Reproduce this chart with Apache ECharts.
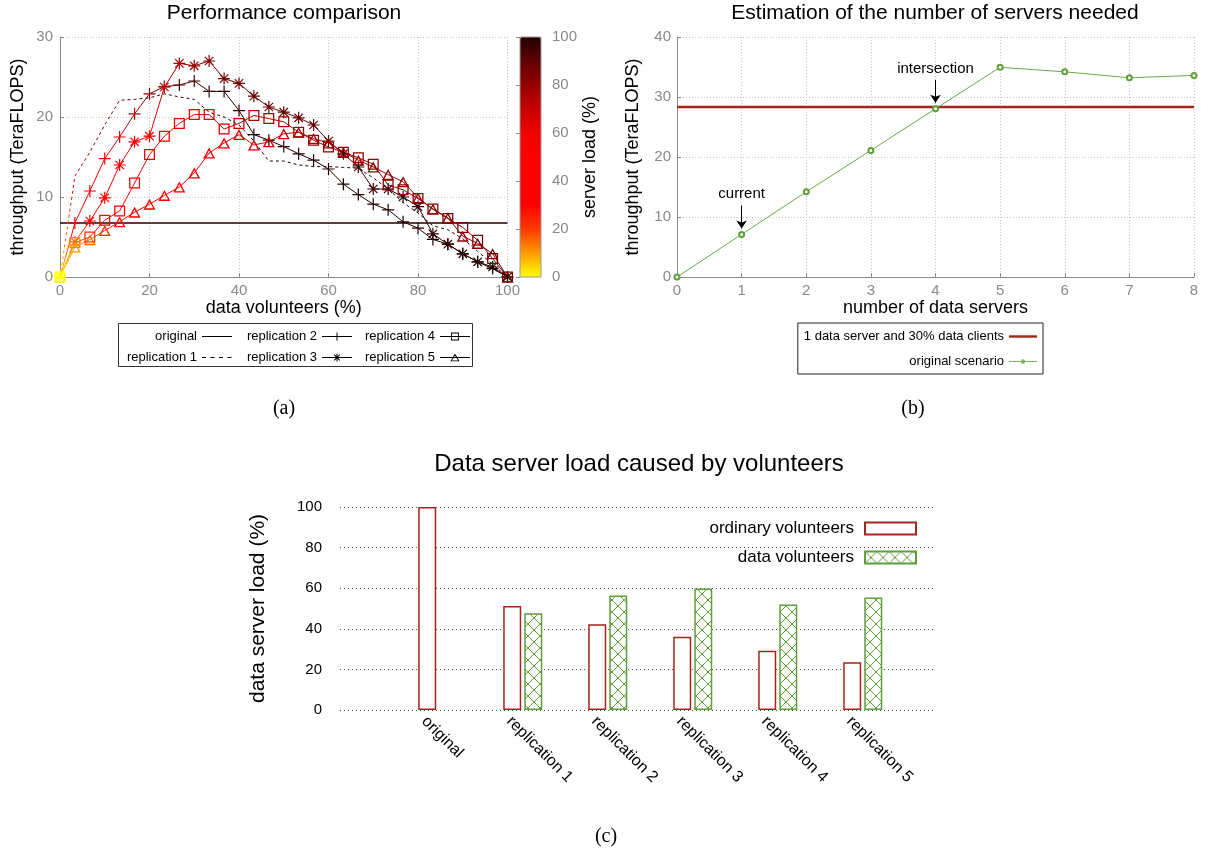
<!DOCTYPE html>
<html><head><meta charset="utf-8">
<script src="https://cdn.jsdelivr.net/npm/echarts@6/dist/echarts.min.js"></script>
<style>html,body{margin:0;padding:0;background:#fff}#c{width:1216px;height:854px}</style>
</head><body><div id="c"></div>
<script>
// ---------------- DATA ----------------
// (a) Performance comparison
const dataVolunteersPct = [0,3.33,6.67,10,13.33,16.67,20,23.33,26.67,30,33.33,36.67,40,43.33,46.67,50,53.33,56.67,60,63.33,66.67,70,73.33,76.67,80,83.33,86.67,90,93.33,96.67,100];
const originalPct = [0, 100];
const originalThroughput = [6.75, 6.75];
const originalLoad = [100, 100];
const rep1Throughput = [0,12.6,15.6,19.0,22.1,22.2,22.4,22.9,22.5,22.2,20.6,20.0,19.0,17.0,14.5,14.5,14.0,13.8,13.8,13.7,13.6,12.4,11.0,9.3,8.0,6.4,5.9,4.8,3.2,1.6,0];
const rep2Throughput = [0,6.75,10.75,14.8,17.5,20.4,22.9,23.8,24.0,24.5,23.2,23.2,20.8,17.8,17.1,16.3,15.4,14.6,13.5,11.6,10.3,9.1,8.4,6.9,6.1,4.7,4.1,2.9,1.9,1.05,0];
const rep3Throughput = [0,4.4,7.0,9.9,14.0,16.9,17.6,23.75,26.7,26.4,27.0,24.8,24.2,22.6,21.25,20.6,19.9,19.0,17.0,15.4,13.75,11.0,11.0,10.0,8.8,5.4,4.1,2.9,1.9,1.25,0];
const rep4Throughput = [0,4.3,5.0,7.1,8.25,11.75,15.3,17.6,19.2,20.3,20.3,18.5,19.2,20.2,19.8,19.4,18.1,17.1,16.25,15.6,14.9,14.1,11.5,10.9,9.8,8.5,7.3,6.2,4.6,2.3,0];
const rep5Throughput = [0,3.75,4.67,5.8,6.9,8.1,9.1,10.2,11.25,13.0,15.5,16.75,17.8,16.5,16.9,17.9,18.1,17.3,16.75,15.6,14.6,13.75,12.8,11.9,9.9,8.5,7.4,5.1,4.2,2.9,0];
// server load (%) at each point (colour dimension)
const rep1Load = [0,50,75,85,90,93,95,96,97,98,99,100,100,100,100,100,100,100,100,100,100,100,100,100,100,100,100,100,100,100,100];
const rep2Load = [0,40,50,55,65,75,82,88,92,95,97,98,100,100,100,100,100,100,100,100,100,100,100,100,100,100,100,100,100,100,100];
const rep3Load = [0,15,30,45,50,55,60,70,78,80,84,86,87,88,88,89,89,90,91,92,94,96,97,98,98,99,99,100,100,100,100];
const rep4Load = [0,12,22,35,45,50,55,58,60,62,64,68,72,75,77,78,79,80,80,80,81,81,82,82,83,83,84,84,85,86,87];
const rep5Load = [0,10,15,22,28,35,45,50,55,58,60,60,62,63,66,70,74,77,78,79,80,80,81,81,82,82,83,83,84,85,86];
const repNames = ['replication 1','replication 2','replication 3','replication 4','replication 5'];

// (b) Estimation of the number of servers needed
const dataServers = [0,1,2,3,4,5,6,7,8];
const originalScenario = [0,7.1,14.2,21.1,28.05,34.95,34.2,33.2,33.6];
const oneServer30Pct = 28.35;
const annotLabels = ['current','intersection'];
const annotServers = [1,4];

// (c) Data server load caused by volunteers
const loadCategories = ['original','replication 1','replication 2','replication 3','replication 4','replication 5'];
const ordinaryVolunteersLoad = [100,51.2,42.3,36.1,29.2,23.5];
const dataVolunteersLoad = [null,47.6,56.4,59.8,52.0,55.4];

// ---------------- STYLE ----------------
const FONT = 'Liberation Sans, Arial, sans-serif';
const SERIF = 'Liberation Serif, DejaVu Serif, serif';
const GRAY = '#8a8a8a';
const GRID_DOT = '#c4c4c4';
const loadPalette = ['#ffff00','#ff9a00','#ff3a00','#ff0000','#ff0000','#ff0000','#f00000','#c80000','#960000','#600000','#220000'];
const PLUS = 'path://M0,9H20V11H0Z M9,0H11V20H9Z';
const STAR = 'path://M0,9H20V11H0Z M9,0H11V20H9Z M3.7,2.3L17.7,16.3L16.3,17.7L2.3,3.7Z M16.3,2.3L17.7,3.7L3.7,17.7L2.3,16.3Z';
const SQUARE_RING = 'path://M0,0H20V20H0Z M2.3,2.3V17.7H17.7V2.3Z';
const TRI_RING = 'path://M10,0L20,18H0Z M10,4.4L3.8,15.8H16.2Z';
const ICON_LINE = 'path://M0,0M30,10M0,4.5H30V5.5H0Z';
const ICON_DASH = 'path://M0,0M30,10M0,4.5H4V5.5H0Z M8.5,4.5H12.5V5.5H8.5Z M17,4.5H21V5.5H17Z M25.5,4.5H29.5V5.5H25.5Z';
const ICON_PLUS = 'path://M0,0M30,10M0,4.5H30V5.5H0Z M14.5,1H15.5V9H14.5Z';
const ICON_STAR = 'path://M0,0M30,10M0,4.5H30V5.5H0Z M14.5,1H15.5V9H14.5Z M12.5,1.8L18.2,7.5L17.5,8.2L11.8,2.5Z M17.5,1.8L18.2,2.5L12.5,8.2L11.8,7.5Z';
const ICON_SQUARE = 'path://M0,0M30,10M0,4.5H30V5.5H0Z M11,1H19V9H11Z M11.9,1.9V8.1H18.1V1.9Z';
const ICON_TRI = 'path://M0,0M30,10M0,4.5H30V5.5H0Z M15,1L19.6,8.8H10.4Z M15,2.9L11.9,7.9H18.1Z';
const ICON_THICK = 'path://M0,0M28,10M0,3.8H28V6.2H0Z';
const ICON_DOTLINE = 'path://M0,0M28,10M0,4.5H28V5.5H0Z M16.2,5A2.2,2.2 0 1 1 11.8,5A2.2,2.2 0 1 1 16.2,5Z';
const repSymbol = ['none', PLUS, STAR, SQUARE_RING, TRI_RING];
const repSymbolSize = [0, 12, 12, 11, [12, 11]];
const RED = '#a3261b';
const GREEN = '#5f9f3c';

function hexToRgb(h){ return [parseInt(h.slice(1,3),16), parseInt(h.slice(3,5),16), parseInt(h.slice(5,7),16)]; }
function loadColor(v){
  const n = loadPalette.length - 1;
  const t = Math.max(0, Math.min(1, v/100)) * n;
  const i = Math.min(Math.floor(t), n-1);
  const f = t - i;
  const a = hexToRgb(loadPalette[i]), b = hexToRgb(loadPalette[i+1]);
  return 'rgb(' + a.map((c,k)=>Math.round(c + (b[k]-c)*f)).join(',') + ')';
}
function loadGradient(xs, loads){
  const x0 = xs[0], x1 = xs[xs.length-1];
  return new echarts.graphic.LinearGradient(0,0,1,0, xs.map((x,i)=>({offset:(x-x0)/(x1-x0), color: loadColor(loads[i])})));
}
function hatchPattern(){
  const c = document.createElement('canvas');
  c.width = 12; c.height = 12;
  const g = c.getContext('2d');
  g.fillStyle = '#fff'; g.fillRect(0,0,12,12);
  g.strokeStyle = GREEN; g.lineWidth = 1;
  g.beginPath(); g.moveTo(0,0); g.lineTo(12,12); g.moveTo(12,0); g.lineTo(0,12); g.stroke();
  return c;
}

const repThroughput = [rep1Throughput, rep2Throughput, rep3Throughput, rep4Throughput, rep5Throughput];
const repLoad = [rep1Load, rep2Load, rep3Load, rep4Load, rep5Load];
const repIcon = [ICON_DASH, ICON_PLUS, ICON_STAR, ICON_SQUARE, ICON_TRI];

const chart = echarts.init(document.getElementById('c'));

const seriesA = [{
  name: 'original', type: 'line', xAxisIndex: 0, yAxisIndex: 0, symbol: 'none',
  data: originalPct.map((x,i)=>[x, originalThroughput[i], originalLoad[i]]),
  lineStyle: {width: 1.3, color: loadGradient(originalPct, originalLoad)}
}].concat(repNames.map((name,k)=>({
  name: name, type: 'line', xAxisIndex: 0, yAxisIndex: 0,
  symbol: repSymbol[k], symbolSize: repSymbolSize[k], showSymbol: repSymbol[k] !== 'none',
  data: dataVolunteersPct.map((x,i)=>[x, repThroughput[k][i], repLoad[k][i]]),
  lineStyle: {width: 1, type: k === 0 ? [3,3] : 'solid', color: loadGradient(dataVolunteersPct, repLoad[k])},
  itemStyle: {borderWidth: 0}
})));

const legendBlack = (name, icon) => ({name: name, icon: icon, itemStyle: {color: '#000', borderColor: '#000', borderWidth: 0}});

const axisNameStyle = (size) => ({fontSize: size, color: '#000', fontFamily: FONT});

const option = {
  animation: false,
  backgroundColor: '#fff',
  textStyle: {fontFamily: FONT},
  title: [
    {text: 'Performance comparison', left: 284, top: 3, textAlign: 'center', padding: 0, textStyle: {fontSize: 21, fontWeight: 'normal', color: '#000', fontFamily: FONT}},
    {text: 'Estimation of the number of servers needed', left: 935, top: 3, textAlign: 'center', padding: 0, textStyle: {fontSize: 21, fontWeight: 'normal', color: '#000', fontFamily: FONT}},
    {text: 'Data server load caused by volunteers', left: 639, top: 452, textAlign: 'center', padding: 0, textStyle: {fontSize: 24, fontWeight: 'normal', color: '#000', fontFamily: FONT}},
    {text: '(a)', left: 284, top: 399, textAlign: 'center', padding: 0, textStyle: {fontSize: 20, fontWeight: 'normal', color: '#000', fontFamily: SERIF}},
    {text: '(b)', left: 913, top: 399, textAlign: 'center', padding: 0, textStyle: {fontSize: 20, fontWeight: 'normal', color: '#000', fontFamily: SERIF}},
    {text: '(c)', left: 606, top: 827, textAlign: 'center', padding: 0, textStyle: {fontSize: 20, fontWeight: 'normal', color: '#000', fontFamily: SERIF}}
  ],
  grid: [
    {left: 60, top: 37, width: 447.5, height: 240},
    {left: 677, top: 37, width: 517, height: 240},
    {left: 520, top: 37, width: 21, height: 240, show: true, borderColor: '#999', borderWidth: 1, backgroundColor: 'transparent', z: 5},
    {left: 340, top: 507, width: 595, height: 203}
  ],
  xAxis: [
    {gridIndex: 0, type: 'value', min: 0, max: 100, interval: 20,
     name: 'data volunteers (%)', nameLocation: 'middle', nameGap: 16, nameTextStyle: axisNameStyle(18),
     axisLine: {lineStyle: {color: GRAY}}, axisTick: {inside: true, length: 4, lineStyle: {color: GRAY}},
     axisLabel: {color: GRAY, fontSize: 15, margin: 6},
     splitLine: {show: true, lineStyle: {color: GRID_DOT, type: [1,2]}}},
    {gridIndex: 1, type: 'value', min: 0, max: 8, interval: 1,
     name: 'number of data servers', nameLocation: 'middle', nameGap: 20, nameTextStyle: axisNameStyle(18),
     axisLine: {lineStyle: {color: GRAY}}, axisTick: {inside: true, length: 4, lineStyle: {color: GRAY}},
     axisLabel: {color: GRAY, fontSize: 15, margin: 6},
     splitLine: {show: true, lineStyle: {color: GRID_DOT, type: [1,2]}}},
    {gridIndex: 2, type: 'value', min: 0, max: 1, show: false},
    {gridIndex: 3, type: 'value', min: -1.15, max: 5.85,
     axisLine: {show: false}, axisTick: {show: false}, splitLine: {show: false},
     axisLabel: {show: true, rotate: -45, fontSize: 16, color: '#000', margin: 9,
       customValues: loadCategories.map((c,i)=>i - 0.16),
       formatter: (v)=> loadCategories[Math.round(v)] || ''}}
  ],
  yAxis: [
    {gridIndex: 0, type: 'value', min: 0, max: 30, interval: 10,
     name: 'throughput (TeraFLOPS)', nameLocation: 'middle', nameGap: 33, nameTextStyle: axisNameStyle(18),
     axisLine: {show: true, lineStyle: {color: GRAY}}, axisTick: {show: true, inside: true, length: 4, lineStyle: {color: GRAY}},
     axisLabel: {color: GRAY, fontSize: 15, margin: 7},
     splitLine: {show: true, lineStyle: {color: GRID_DOT, type: [1,2]}}},
    {gridIndex: 1, type: 'value', min: 0, max: 40, interval: 10,
     name: 'throughput (TeraFLOPS)', nameLocation: 'middle', nameGap: 35, nameTextStyle: axisNameStyle(18),
     axisLine: {show: true, lineStyle: {color: GRAY}}, axisTick: {show: true, inside: true, length: 4, lineStyle: {color: GRAY}},
     axisLabel: {color: GRAY, fontSize: 15, margin: 6},
     splitLine: {show: true, lineStyle: {color: GRID_DOT, type: [1,2]}}},
    {gridIndex: 2, type: 'value', position: 'right', min: 0, max: 100, interval: 20,
     name: 'server load (%)', nameLocation: 'middle', nameGap: 40, nameTextStyle: axisNameStyle(18),
     axisLine: {show: false}, axisTick: {show: true, inside: true, length: 4, lineStyle: {color: GRAY}},
     axisLabel: {color: GRAY, fontSize: 15, margin: 11}, splitLine: {show: false}},
    {gridIndex: 3, type: 'value', min: 0, max: 100, interval: 20,
     name: 'data server load (%)', nameLocation: 'middle', nameGap: 71, nameTextStyle: axisNameStyle(21),
     axisLine: {show: false}, axisTick: {show: false},
     axisLabel: {color: '#000', fontSize: 15, margin: 18},
     splitLine: {show: true, lineStyle: {color: '#555', type: [1,3]}}}
  ],
  visualMap: [{
    type: 'continuous', seriesIndex: [0,1,2,3,4,5], dimension: 2, min: 0, max: 100,
    inRange: {color: loadPalette}, orient: 'vertical', left: 520, top: 37,
    itemWidth: 21, itemHeight: 240, padding: 0, calculable: false, hoverLink: false, z: 2
  }],
  legend: [
    {orient: 'vertical', align: 'right', right: 984, top: 330, padding: 0, itemWidth: 30, itemHeight: 10, itemGap: 8,
     selectedMode: false, textStyle: {fontSize: 13, color: '#000'},
     data: [legendBlack('original', ICON_LINE), legendBlack(repNames[0], repIcon[0])]},
    {orient: 'vertical', align: 'right', right: 864, top: 330, padding: 0, itemWidth: 30, itemHeight: 10, itemGap: 8,
     selectedMode: false, textStyle: {fontSize: 13, color: '#000'},
     data: [legendBlack(repNames[1], repIcon[1]), legendBlack(repNames[2], repIcon[2])]},
    {orient: 'vertical', align: 'right', right: 746, top: 330, padding: 0, itemWidth: 30, itemHeight: 10, itemGap: 8,
     selectedMode: false, textStyle: {fontSize: 13, color: '#000'},
     data: [legendBlack(repNames[3], repIcon[3]), legendBlack(repNames[4], repIcon[4])]},
    {orient: 'vertical', align: 'right', right: 173, top: 323, padding: [7,6,6,6], borderColor: '#222', borderWidth: 1,
     itemWidth: 28, itemHeight: 10, itemGap: 12, selectedMode: false, textStyle: {fontSize: 13, color: '#000'},
     data: [{name: '1 data server and 30% data clients', icon: ICON_THICK, itemStyle: {color: RED, borderWidth: 0}},
            {name: 'original scenario', icon: ICON_DOTLINE, itemStyle: {color: '#7ab85a', borderWidth: 0}}]},
    {orient: 'vertical', align: 'right', right: 299, top: 520, padding: 0, itemWidth: 51, itemHeight: 12, itemGap: 12,
     selectedMode: false, icon: 'rect', textStyle: {fontSize: 17, color: '#000', padding: [0,6,0,0]},
     data: ['ordinary volunteers', 'data volunteers']}
  ],
  graphic: [
    {type: 'rect', shape: {x: 118.5, y: 323.5, width: 354, height: 43}, style: {fill: 'none', stroke: '#333', lineWidth: 1}, silent: true}
  ],
  series: seriesA.concat([
    {name: '1 data server and 30% data clients', type: 'line', xAxisIndex: 1, yAxisIndex: 1, symbol: 'none',
     data: [[dataServers[0], oneServer30Pct], [dataServers[dataServers.length-1], oneServer30Pct]],
     lineStyle: {color: RED, width: 2.5}, itemStyle: {color: RED}, z: 3},
    {name: 'original scenario', type: 'line', xAxisIndex: 1, yAxisIndex: 1, symbol: 'emptyCircle', symbolSize: 5,
     data: dataServers.map((s,i)=>[s, originalScenario[i]]),
     lineStyle: {color: '#6aaa48', width: 1}, itemStyle: {color: GREEN, borderWidth: 1}, z: 4,
     markLine: {
       silent: true, symbol: ['none','arrow'], symbolSize: 8, precision: 4, animation: false,
       lineStyle: {color: '#000', width: 1, type: 'solid'},
       label: {show: true, position: 'start', formatter: '{b}', color: '#000', fontSize: 15, distance: 4, fontFamily: FONT},
       emphasis: {disabled: true},
       data: annotLabels.map((lab,i)=>{
         const y = originalScenario[dataServers.indexOf(annotServers[i])];
         return [{name: lab, coord: [annotServers[i], y + 4.8]}, {coord: [annotServers[i], y + 1.0]}];
       })
     }},
    {name: 'ordinary volunteers', type: 'bar', xAxisIndex: 3, yAxisIndex: 3, barWidth: 18, barGap: '17%',
     data: ordinaryVolunteersLoad.map((v,i)=>[i, v]).filter(d=>d[1] != null),
     itemStyle: {color: '#fff', borderColor: RED, borderWidth: 1.5}},
    {name: 'data volunteers', type: 'bar', xAxisIndex: 3, yAxisIndex: 3, barWidth: 18, barGap: '17%',
     data: dataVolunteersLoad.map((v,i)=>[i, v]).filter(d=>d[1] != null),
     itemStyle: {color: {image: hatchPattern(), repeat: 'repeat'}, borderColor: GREEN, borderWidth: 1.5}}
  ])
};
chart.setOption(option);
</script></body></html>
